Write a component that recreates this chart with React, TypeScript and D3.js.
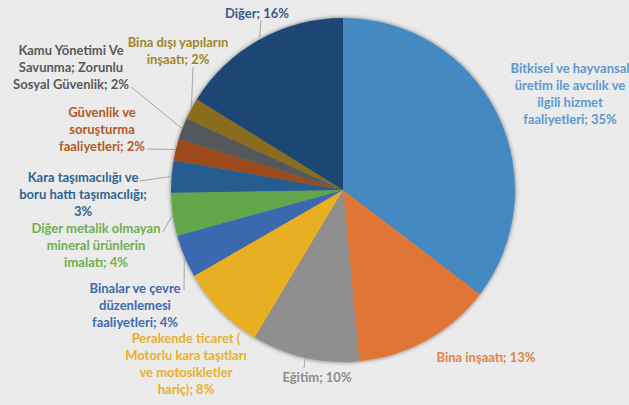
import React from "react";
import * as d3 from "d3";

const categories = [
  "Bitkisel ve hayvansal üretim ile avcılık ve ilgili hizmet faaliyetleri",
  "Bina inşaatı",
  "Eğitim",
  "Perakende ticaret ( Motorlu kara taşıtları ve motosikletler hariç)",
  "Binalar ve çevre düzenlemesi faaliyetleri",
  "Diğer metalik olmayan mineral ürünlerin imalatı",
  "Kara taşımacılığı ve boru hattı taşımacılığı",
  "Güvenlik ve soruşturma faaliyetleri",
  "Kamu Yönetimi Ve Savunma; Zorunlu Sosyal Güvenlik",
  "Bina dışı yapıların inşaatı",
  "Diğer",
];
const values = [35, 13, 10, 8, 4, 4, 3, 2, 2, 2, 16];
const labelLines = [
  ["Bitkisel ve hayvansal", "üretim ile avcılık ve", "ilgili hizmet", "faaliyetleri; 35%"],
  ["Bina inşaatı; 13%"],
  ["Eğitim; 10%"],
  ["Perakende ticaret (", "Motorlu kara taşıtları", "ve motosikletler", "hariç); 8%"],
  ["Binalar ve çevre", "düzenlemesi", "faaliyetleri; 4%"],
  ["Diğer metalik olmayan", "mineral ürünlerin", "imalatı; 4%"],
  ["Kara taşımacılığı ve", "boru hattı taşımacılığı;", "3%"],
  ["Güvenlik ve", "soruşturma", "faaliyetleri; 2%"],
  ["Kamu Yönetimi Ve", "Savunma; Zorunlu", "Sosyal Güvenlik; 2%"],
  ["Bina dışı yapıların", "inşaatı; 2%"],
  ["Diğer; 16%"],
];

// styling / layout (kept separate from data)
const sliceColors = ["#4589c3", "#e07636", "#8f8f8f", "#e9af23", "#3b69b0", "#62a64c", "#255d91", "#9c4a1c", "#55595a", "#8a6d1f", "#1d4674"];
const textColors = ["#5a9ad4", "#e3824a", "#8c8c8c", "#eab02a", "#3f6ab3", "#6db050", "#2e6695", "#b35a26", "#5a5a5a", "#a0862a", "#3a5a8a"];
// label center x, first-line center y, leader label-side point (or null)
const labelLayout: { x: number; y: number; lead: [number, number] | null }[] = [
  { x: 570, y: 68, lead: null },
  { x: 486, y: 357, lead: null },
  { x: 317, y: 377, lead: [304, 368] },
  { x: 186, y: 338, lead: null },
  { x: 135, y: 288, lead: [184, 290] },
  { x: 96, y: 228, lead: [163, 232] },
  { x: 83, y: 177, lead: [140, 181] },
  { x: 102, y: 112, lead: [147, 149] },
  { x: 71, y: 50, lead: [131, 87] },
  { x: 178, y: 42, lead: [193, 67] },
  { x: 257, y: 13, lead: [261, 20] },
];

const W = 629, H = 405;
const cx = 343, cy = 190, R = 172;
const lineH = 17;

export default function App() {
  const pie = d3.pie<number>().sort(null).value((d) => d)(values);
  const arc = d3.arc<d3.PieArcDatum<number>>().innerRadius(0).outerRadius(R);
  return (
    <div style={{ position: "fixed", left: 0, top: 0, width: W, height: H }}>
      <svg width={W} height={H} style={{ display: "block", background: "#ebebeb" }}>
        <defs>
          <filter id="sh" x="-20%" y="-20%" width="140%" height="140%">
            <feDropShadow dx="0" dy="0" stdDeviation="2.2" floodColor="#000" floodOpacity="0.55" />
          </filter>
        </defs>
        <g transform={`translate(${cx},${cy})`} filter="url(#sh)">
          {pie.map((p, i) => (
            <path key={i} d={arc(p) || ""} fill={sliceColors[i]} />
          ))}
        </g>
        {pie.map((p, i) => {
          const L = labelLayout[i];
          if (!L.lead) return null;
          const a = (p.startAngle + p.endAngle) / 2;
          const px = cx + R * Math.sin(a);
          const py = cy - R * Math.cos(a);
          return (
            <line key={"l" + i} x1={L.lead[0]} y1={L.lead[1]} x2={px} y2={py} stroke="#a6a6a6" strokeWidth={1} />
          );
        })}
        {labelLines.map((lines, i) => {
          const L = labelLayout[i];
          return (
            <text key={"t" + i} textAnchor="middle" fill={textColors[i]} fontFamily="Lato, 'Open Sans', sans-serif" fontWeight="bold" fontSize={13}>
              {lines.map((s, j) => (
                <tspan key={j} x={L.x} y={L.y + j * lineH} dy="0.35em">{s}</tspan>
              ))}
            </text>
          );
        })}
      </svg>
    </div>
  );
}
